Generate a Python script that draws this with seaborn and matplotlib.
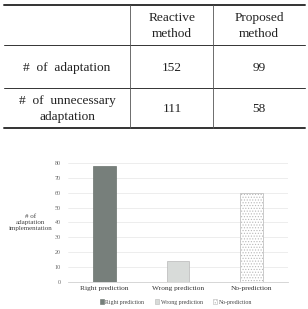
import matplotlib
matplotlib.use("Agg")
import matplotlib.pyplot as plt
import seaborn as sns
import pandas as pd
from matplotlib.lines import Line2D
from matplotlib.patches import Patch

# table data
col_labels = ["Reactive\nmethod", "Proposed\nmethod"]
row_labels = ["#  of  adaptation", "#  of  unnecessary\nadaptation"]
reactive_vals = [152, 111]
proposed_vals = [99, 58]

# bar chart data
categories = ["Right prediction", "Wrong prediction", "No-prediction"]
counts = [78, 14, 60]
bar_colors = ["#76807b", "#d8dbd9", "#ffffff"]

sns.set_style("white")
plt.rcParams["font.family"] = ["Liberation Serif", "DejaVu Serif"]
plt.rcParams["hatch.color"] = "#cccccc"
plt.rcParams["hatch.linewidth"] = 0.5

fig = plt.figure(figsize=(3.08, 3.09), dpi=100)
W, H = 308.0, 309.0

def fx(px):
    return px / W

def fy(py):
    return 1 - py / H

# table lines
for yy, lw in [(5, 1.4), (45, 0.7), (88, 0.7), (128, 1.4)]:
    fig.add_artist(Line2D([fx(4), fx(305)], [fy(yy), fy(yy)], color="#333333", lw=lw))
for xx in [130, 213]:
    fig.add_artist(Line2D([fx(xx), fx(xx)], [fy(5), fy(128)], color="#555555", lw=0.6))

tkw = dict(ha="center", va="center", fontsize=9.6, color="#222222", linespacing=1.4)
fig.text(fx(172), fy(26), col_labels[0], **tkw)
fig.text(fx(259), fy(26), col_labels[1], **tkw)
fig.text(fx(67), fy(68), row_labels[0], **tkw)
fig.text(fx(67), fy(109), row_labels[1], **tkw)
fig.text(fx(172), fy(68), str(reactive_vals[0]), **tkw)
fig.text(fx(259), fy(68), str(proposed_vals[0]), **tkw)
fig.text(fx(172), fy(109), str(reactive_vals[1]), **tkw)
fig.text(fx(259), fy(109), str(proposed_vals[1]), **tkw)

# bar chart
ax = fig.add_axes([fx(68), fy(282), fx(288) - fx(68), fy(163) - fy(282)])
df = pd.DataFrame({"cat": categories, "n": counts})
sns.barplot(data=df, x="cat", y="n", hue="cat", palette=bar_colors, width=0.31,
            ax=ax, legend=False, edgecolor="#b8b8b8", linewidth=0.5)
ax.patches[2].set_hatch("......")
ax.patches[0].set_edgecolor("#6a736e")
ax.set_ylim(0, 80)
ax.set_yticks(range(0, 81, 10))
ax.yaxis.grid(True, color="#e6e6e6", lw=0.5)
ax.set_axisbelow(True)
for s in ["top", "right", "left"]:
    ax.spines[s].set_visible(False)
ax.spines["bottom"].set_color("#d0d0d0")
ax.spines["bottom"].set_linewidth(0.6)
ax.tick_params(axis="y", labelsize=4.3, colors="#666666", length=0, pad=5)
ax.tick_params(axis="x", labelsize=5.3, colors="#333333", length=0, pad=3)
ax.set_xlabel("")
ax.set_ylabel("# of\nadaptation\nimplementation", rotation=0, fontsize=5.0,
              color="#444444", linespacing=1.3)
ax.yaxis.set_label_coords(-0.17, 0.5)
ax.yaxis.label.set_va("center")
ax.yaxis.label.set_ha("center")

handles = [Patch(facecolor=bar_colors[0], edgecolor="#6a736e", lw=0.4),
           Patch(facecolor=bar_colors[1], edgecolor="#b8b8b8", lw=0.4),
           Patch(facecolor=bar_colors[2], edgecolor="#b8b8b8", lw=0.4, hatch="......")]
fig.legend(handles, categories, loc="center", bbox_to_anchor=(fx(176), fy(302)),
           ncol=3, frameon=False, fontsize=4.2, handlelength=0.7, handleheight=0.7,
           handletextpad=0.3, columnspacing=1.8, labelcolor="#444444")

fig.savefig("out.png", dpi=100, facecolor="white")
